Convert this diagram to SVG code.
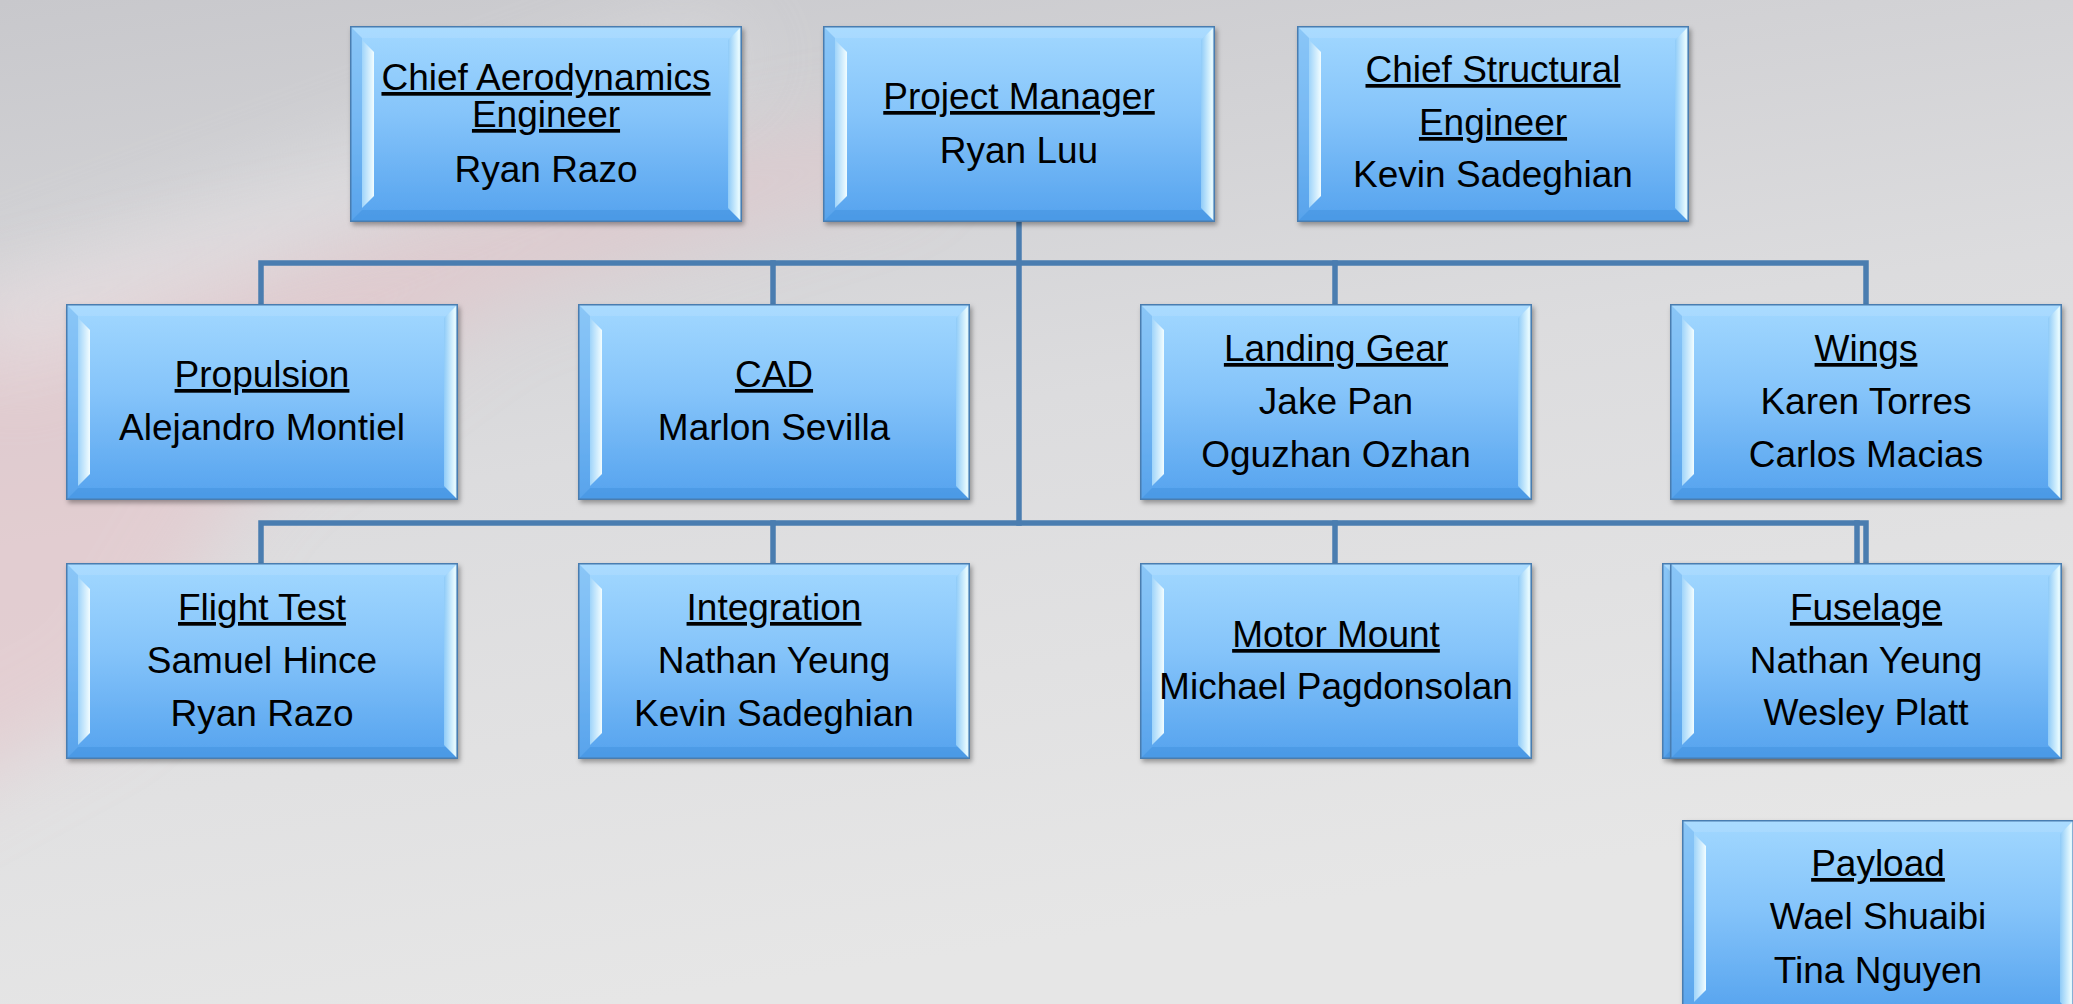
<svg xmlns="http://www.w3.org/2000/svg" xmlns:xlink="http://www.w3.org/1999/xlink" width="2073" height="1004" viewBox="0 0 2073 1004">
<style>
.t{font-family:"Liberation Sans",Arial,sans-serif;font-size:37px;fill:#000;text-anchor:middle}
.u{text-decoration:underline}
.c{stroke:#4a7db0;stroke-width:5.5;fill:none;stroke-linecap:square}
</style>
<defs>
<linearGradient id="bg" x1="0" y1="0" x2="0.3" y2="1">
<stop offset="0" stop-color="#c8c8cc"/>
<stop offset="0.5" stop-color="#dcdcde"/>
<stop offset="1" stop-color="#e6e6e6"/>
</linearGradient>
<filter id="blur" x="-50%" y="-50%" width="200%" height="200%"><feGaussianBlur stdDeviation="40"/></filter>
<filter id="sh" x="-5%" y="-5%" width="115%" height="115%"><feDropShadow dx="2" dy="3" stdDeviation="2.5" flood-color="#000" flood-opacity="0.35"/></filter>
<linearGradient id="fillG" x1="0" y1="0" x2="0" y2="1">
<stop offset="0" stop-color="#a2d8ff"/>
<stop offset="0.45" stop-color="#85c4fa"/>
<stop offset="1" stop-color="#54a2ee"/>
</linearGradient>
<linearGradient id="hlL" x1="0" y1="0" x2="1" y2="0">
<stop offset="0" stop-color="#9fd4fa"/>
<stop offset="1" stop-color="#f2fdff"/>
</linearGradient>
<linearGradient id="hlR" x1="0" y1="0" x2="1" y2="0">
<stop offset="0" stop-color="#8fcbf8"/>
<stop offset="0.8" stop-color="#eafcff"/>
<stop offset="1" stop-color="#8fc8f0"/>
</linearGradient>
<g id="box">
<rect width="392" height="196" fill="url(#fillG)"/>
<polygon points="0,0 392,0 380,12 12,12" fill="#bfe6ff" opacity="0.3"/>
<polygon points="12,184 380,184 392,196 0,196" fill="#3a8ad8" opacity="0.35"/>
<polygon points="0,0 12,12 12,184 0,196" fill="#5ea6e8" opacity="0.35"/>
<polygon points="12,14 24,26 24,170 12,182" fill="url(#hlL)"/>
<polygon points="378,14 392,0 392,196 378,182" fill="url(#hlR)"/>
<rect x="0.75" y="0.75" width="390.5" height="194.5" fill="none" stroke="#4a7db0" stroke-width="1.5"/>
</g>
</defs>

<rect width="2073" height="1004" fill="url(#bg)"/>
<path d="M-100,330 L200,260 L500,200 L900,120 L920,170 L500,300 L250,480 L120,700 L-100,820 Z" fill="#e6c4c9" opacity="0.6" filter="url(#blur)"/>
<path d="M-60,300 L700,20 L760,60 L0,380 Z" fill="#ececee" opacity="0.45" filter="url(#blur)"/>

<g id="connectors">
<path class="c" d="M1019,222 V523"/>
<path class="c" d="M261,304 V263 H1866 V304"/>
<path class="c" d="M773,263 V304"/>
<path class="c" d="M1335,263 V304"/>
<path class="c" d="M261,563 V523 H1866 V563"/>
<path class="c" d="M773,523 V563"/>
<path class="c" d="M1335,523 V563"/>
<path class="c" d="M1857,523 V563"/>
</g>

<g id="node-aero">
<use href="#box" x="350" y="26" filter="url(#sh)"/>
<text class="t u" x="546" y="90">Chief Aerodynamics</text>
<text class="t u" x="546" y="127">Engineer</text>
<text class="t" x="546" y="182">Ryan Razo</text>
</g>
<g id="node-pm">
<use href="#box" x="823" y="26" filter="url(#sh)"/>
<text class="t u" x="1019" y="109">Project Manager</text>
<text class="t" x="1019" y="163">Ryan Luu</text>
</g>
<g id="node-struct">
<use href="#box" x="1297" y="26" filter="url(#sh)"/>
<text class="t u" x="1493" y="82">Chief Structural</text>
<text class="t u" x="1493" y="135">Engineer</text>
<text class="t" x="1493" y="187">Kevin Sadeghian</text>
</g>

<g id="node-propulsion">
<use href="#box" x="66" y="304" filter="url(#sh)"/>
<text class="t u" x="262" y="387">Propulsion</text>
<text class="t" x="262" y="440">Alejandro Montiel</text>
</g>
<g id="node-cad">
<use href="#box" x="578" y="304" filter="url(#sh)"/>
<text class="t u" x="774" y="387">CAD</text>
<text class="t" x="774" y="440">Marlon Sevilla</text>
</g>
<g id="node-landing">
<use href="#box" x="1140" y="304" filter="url(#sh)"/>
<text class="t u" x="1336" y="361">Landing Gear</text>
<text class="t" x="1336" y="414">Jake Pan</text>
<text class="t" x="1336" y="467">Oguzhan Ozhan</text>
</g>
<g id="node-wings">
<use href="#box" x="1670" y="304" filter="url(#sh)"/>
<text class="t u" x="1866" y="361">Wings</text>
<text class="t" x="1866" y="414">Karen Torres</text>
<text class="t" x="1866" y="467">Carlos Macias</text>
</g>

<g id="node-flight">
<use href="#box" x="66" y="563" filter="url(#sh)"/>
<text class="t u" x="262" y="620">Flight Test</text>
<text class="t" x="262" y="673">Samuel Hince</text>
<text class="t" x="262" y="726">Ryan Razo</text>
</g>
<g id="node-integration">
<use href="#box" x="578" y="563" filter="url(#sh)"/>
<text class="t u" x="774" y="620">Integration</text>
<text class="t" x="774" y="673">Nathan Yeung</text>
<text class="t" x="774" y="726">Kevin Sadeghian</text>
</g>
<g id="node-motor">
<use href="#box" x="1140" y="563" filter="url(#sh)"/>
<text class="t u" x="1336" y="647">Motor Mount</text>
<text class="t" x="1336" y="699">Michael Pagdonsolan</text>
</g>
<g id="node-fuselage-back">
<use href="#box" x="1662" y="563" filter="url(#sh)"/>
</g>
<g id="node-fuselage">
<use href="#box" x="1670" y="563" filter="url(#sh)"/>
<text class="t u" x="1866" y="620">Fuselage</text>
<text class="t" x="1866" y="673">Nathan Yeung</text>
<text class="t" x="1866" y="725">Wesley Platt</text>
</g>
<g id="node-payload">
<use href="#box" x="1682" y="820" filter="url(#sh)"/>
<text class="t u" x="1878" y="876">Payload</text>
<text class="t" x="1878" y="929">Wael Shuaibi</text>
<text class="t" x="1878" y="983">Tina Nguyen</text>
</g>
</svg>
